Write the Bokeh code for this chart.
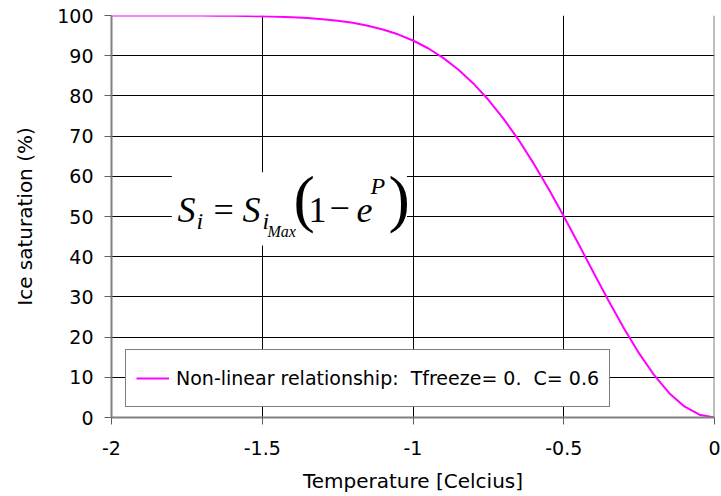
from bokeh.plotting import figure
from bokeh.models import (Range1d, FixedTicker, Legend, LegendItem, Label,
                          BoxAnnotation, Span)
from bokeh.embed import file_html
from bokeh.resources import INLINE

# ---- data ----
temperature = [-2.0, -1.95, -1.9, -1.85, -1.8, -1.75, -1.7, -1.65, -1.6, -1.55,
               -1.5, -1.45, -1.4, -1.35, -1.3, -1.25, -1.2, -1.15, -1.1, -1.05,
               -1.0, -0.95, -0.9, -0.85, -0.8, -0.75, -0.7, -0.65, -0.6, -0.55,
               -0.5, -0.45, -0.4, -0.35, -0.3, -0.25, -0.2, -0.15, -0.1, -0.05, 0.0]
ice_saturation = [100.0, 100.0, 100.0, 99.99, 99.99, 99.98, 99.97, 99.95, 99.92, 99.87,
                  99.81, 99.71, 99.57, 99.37, 99.08, 98.70, 98.17, 97.46, 96.53, 95.32,
                  93.78, 91.85, 89.46, 86.56, 83.10, 79.04, 74.36, 69.08, 63.21, 56.84,
                  50.06, 43.02, 35.88, 28.84, 22.12, 15.94, 10.52, 6.06, 2.74, 0.69, 0.0]
series_label = "Non-linear relationship:  Tfreeze= 0.  C= 0.6"
x_ticks = [-2, -1.5, -1, -0.5, 0]
x_tick_labels = ["-2", "-1.5", "-1", "-0.5", "0"]
y_ticks = [0, 10, 20, 30, 40, 50, 60, 70, 80, 90, 100]
y_tick_labels = [str(v) for v in y_ticks]

SANS = "DejaVu Sans"
SERIF = "Liberation Serif"

p = figure(frame_width=603, frame_height=402,
           x_range=Range1d(-2, 0), y_range=Range1d(0, 100),
           output_backend="svg", toolbar_location=None,
           min_border_left=111, min_border_right=7, min_border_top=15,
           min_border_bottom=0)
p.outline_line_color = None
p.background_fill_color = "white"
p.border_fill_color = "white"

# axes
for ax in (p.xaxis[0], p.yaxis[0]):
    ax.axis_line_color = "#808080"
    ax.axis_line_width = 2
    ax.major_tick_line_color = "#606060"
    ax.major_tick_line_width = 1
    ax.major_tick_in = 0
    ax.major_tick_out = 7
    ax.minor_tick_line_color = None
    ax.major_label_text_font = SANS
    ax.major_label_text_font_size = "19px"
    ax.major_label_text_color = "black"
    ax.axis_label_text_font = SANS
    ax.axis_label_text_font_size = "20px"
    ax.axis_label_text_font_style = "normal"
    ax.axis_label_text_color = "black"

p.xaxis.ticker = FixedTicker(ticks=x_ticks)
p.yaxis.ticker = FixedTicker(ticks=y_ticks)
p.xaxis.major_label_overrides = dict(zip(x_ticks, x_tick_labels))
p.yaxis.major_label_overrides = dict(zip(y_ticks, y_tick_labels))
p.xaxis.axis_label = "Temperature [Celcius]"
p.yaxis.axis_label = "Ice saturation (%)"
p.xaxis.major_label_standoff = 16
p.xaxis.axis_label_standoff = 11
p.yaxis.major_label_standoff = 11
p.yaxis.axis_label_standoff = 17

p.xgrid.ticker = FixedTicker(ticks=x_ticks)
p.ygrid.ticker = FixedTicker(ticks=y_ticks)
p.xgrid.grid_line_color = "black"
p.ygrid.grid_line_color = "black"
p.xgrid.grid_line_width = 1
p.ygrid.grid_line_width = 1

# right border of plot area
p.add_layout(Span(location=x_ticks[-1], dimension="height",
                  line_color="#808080", line_width=2))

# curve
r = p.line(temperature, ice_saturation, line_color="#FF00FF", line_width=2)

# white panel behind equation
p.add_layout(BoxAnnotation(left=-1.80, right=-1.02, bottom=42.8, top=61.0,
                           fill_color="white", fill_alpha=1.0, line_color=None))

# equation  S_i = S_{i_Max} (1 - e^P)
eq_parts = [
    (-1.7811, 51.69, "S", 36, "italic"),
    (-1.7181, 48.81, "i", 24, "italic"),
    (-1.6617, 51.69, "=", 36, "normal"),
    (-1.5655, 51.69, "S", 36, "italic"),
    (-1.4992, 48.81, "i", 24, "italic"),
    (-1.4826, 46.29, "Max", 16, "italic"),
    (-1.3964, 54.60, "(", 64, "normal"),
    (-1.3466, 51.69, "1", 36, "normal"),
    (-1.2769, 52.19, "\u2212", 36, "normal"),
    (-1.1874, 51.69, "e", 36, "italic"),
    (-1.1410, 57.51, "P", 24, "italic"),
    (-1.0813, 54.60, ")", 64, "normal"),
]
for x, y, t, fs, st in eq_parts:
    p.add_layout(Label(x=x, y=y, text=t, text_font=SERIF,
                       text_font_size=f"{fs}px", text_font_style=st,
                       text_color="black", text_align="left",
                       text_baseline="alphabetic"))

legend = Legend(items=[LegendItem(label=series_label, renderers=[r])],
                location=(14, 10), margin=0, padding=10, spacing=0,
                glyph_width=33, glyph_height=20, label_height=36,
                label_standoff=7, label_text_font=SANS,
                label_text_font_size="19px", label_text_color="black",
                border_line_color="black", border_line_width=1,
                background_fill_color="white", background_fill_alpha=1.0)
p.add_layout(legend)

open("out.html", "w").write(file_html(p, INLINE))
